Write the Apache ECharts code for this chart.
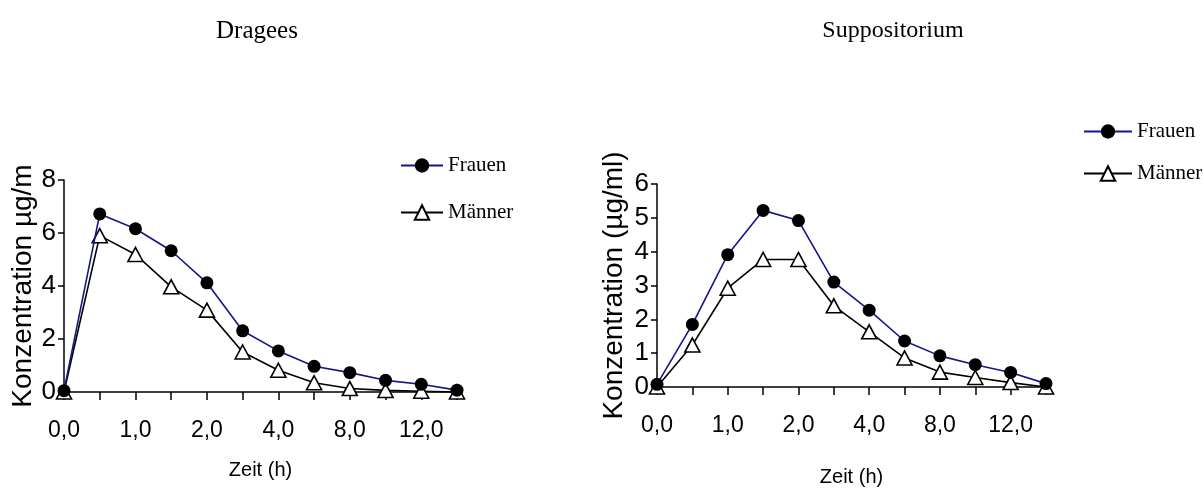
<!DOCTYPE html>
<html>
<head>
<meta charset="utf-8">
<script src="https://cdn.jsdelivr.net/npm/echarts@6/dist/echarts.min.js"></script>
<style>
  html, body { margin: 0; padding: 0; background: #ffffff; }
  #chart { width: 1204px; height: 488px; }
</style>
</head>
<body>
<div id="chart"></div>
<script>
// Sampling times (h)
const times = ['0,0', '0,5', '1,0', '1,5', '2,0', '3,0', '4,0', '6,0', '8,0', '10,0', '12,0', '24,0'];

// Concentration after oral dragees
const drageesFrauen = [0.05, 6.72, 6.16, 5.33, 4.12, 2.31, 1.55, 0.97, 0.73, 0.44, 0.29, 0.07];
const drageesMaenner = [0.0, 5.9, 5.19, 3.97, 3.09, 1.51, 0.82, 0.35, 0.13, 0.06, 0.03, 0.0];

// Concentration after suppository
const suppFrauen = [0.08, 1.85, 3.91, 5.22, 4.92, 3.10, 2.27, 1.36, 0.92, 0.66, 0.43, 0.10];
const suppMaenner = [0.0, 1.24, 2.92, 3.77, 3.77, 2.40, 1.63, 0.86, 0.44, 0.28, 0.13, 0.0];

const panelTitles = ['Dragees', 'Suppositorium'];
const yNames = ['Konzentration µg/m', 'Konzentration (µg/ml)'];
const xName = 'Zeit (h)';
const seriesNames = ['Frauen', 'Männer'];

const SANS = "'Liberation Sans', Arial, sans-serif";
const SERIF = "'Liberation Serif', 'Times New Roman', serif";
const NAVY = '#15158a';

function xAxisFor(gridIndex, nameGap) {
  return {
    type: 'category',
    gridIndex: gridIndex,
    data: times,
    boundaryGap: false,
    name: xName,
    nameLocation: 'middle',
    nameGap: nameGap,
    nameTextStyle: { fontFamily: SANS, fontSize: 20, color: '#000' },
    axisLine: { lineStyle: { color: '#000', width: 1.5 } },
    axisTick: { show: true, interval: 0, length: 8, lineStyle: { color: '#000', width: 1.5 } },
    axisLabel: { interval: 1, margin: 27, fontFamily: SANS, fontSize: 23, color: '#000' },
    splitLine: { show: false }
  };
}

function yAxisFor(gridIndex, max, interval, name, nameGap) {
  return {
    type: 'value',
    gridIndex: gridIndex,
    min: 0,
    max: max,
    interval: interval,
    name: name,
    nameLocation: 'middle',
    nameGap: nameGap,
    nameTextStyle: { fontFamily: SANS, fontSize: 28, color: '#000' },
    axisLine: { show: true, lineStyle: { color: '#000', width: 1.5 } },
    axisTick: { show: true, length: 6, lineStyle: { color: '#000', width: 1.5 } },
    axisLabel: { margin: 8, fontFamily: SANS, fontSize: 26, color: '#000' },
    splitLine: { show: false }
  };
}

function frauenSeries(idx, data) {
  return {
    name: seriesNames[0],
    type: 'line',
    xAxisIndex: idx,
    yAxisIndex: idx,
    data: data,
    symbol: 'circle',
    symbolSize: 13,
    z: 4,
    itemStyle: { color: '#000' },
    lineStyle: { color: NAVY, width: 1.6 },
    clip: false
  };
}

function maennerSeries(idx, data) {
  return {
    name: seriesNames[1],
    type: 'line',
    xAxisIndex: idx,
    yAxisIndex: idx,
    data: data,
    symbol: 'triangle',
    symbolSize: [15, 14],
    showAllSymbol: true,
    z: 3,
    itemStyle: { color: '#fff', borderColor: '#000', borderWidth: 1.6 },
    lineStyle: { color: '#000', width: 1.6 },
    clip: false
  };
}

function legendAt(left, top, itemWidth, itemGap) {
  return {
    orient: 'vertical',
    left: left,
    top: top,
    padding: 0,
    data: seriesNames,
    itemWidth: itemWidth,
    itemHeight: 18,
    itemGap: itemGap,
    selectedMode: false,
    textStyle: { fontFamily: SERIF, fontSize: 21, lineHeight: 20, color: '#000' }
  };
}

const chart = echarts.init(document.getElementById('chart'), null, { renderer: 'canvas' });

chart.setOption({
  backgroundColor: '#ffffff',
  animation: false,
  graphic: [
    { type: 'text', x: 257, y: 31, style: { text: panelTitles[0], font: '25px ' + SERIF, fill: '#000', textAlign: 'center', textVerticalAlign: 'middle' } },
    { type: 'text', x: 893, y: 31, style: { text: panelTitles[1], font: '24px ' + SERIF, fill: '#000', textAlign: 'center', textVerticalAlign: 'middle' } }
  ],
  legend: [
    legendAt(400, 155, 42, 26),
    legendAt(1083, 121, 48, 21)
  ],
  grid: [
    { left: 64, top: 180, width: 393, height: 212 },
    { left: 657, top: 184, width: 389, height: 203 }
  ],
  xAxis: [
    xAxisFor(0, 68),
    xAxisFor(1, 80)
  ],
  yAxis: [
    yAxisFor(0, 8, 2, yNames[0], 27),
    yAxisFor(1, 6, 1, yNames[1], 29)
  ],
  series: [
    frauenSeries(0, drageesFrauen),
    maennerSeries(0, drageesMaenner),
    frauenSeries(1, suppFrauen),
    maennerSeries(1, suppMaenner)
  ]
});
</script>
</body>
</html>
